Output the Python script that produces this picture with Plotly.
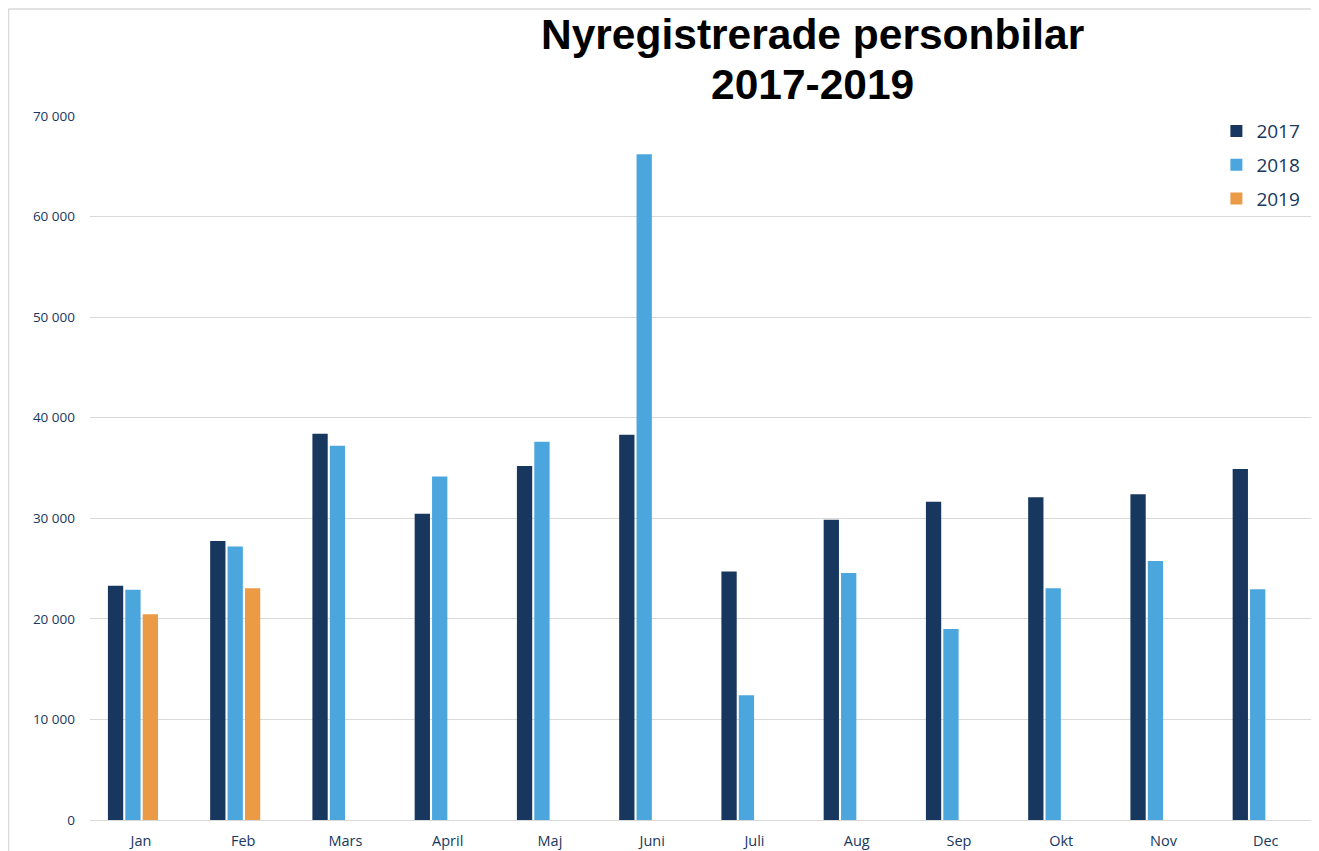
import plotly.graph_objects as go

months = ["Jan", "Feb", "Mars", "April", "Maj", "Juni", "Juli", "Aug", "Sep", "Okt", "Nov", "Dec"]
v2017 = [23300, 27750, 38400, 30450, 35200, 38300, 24700, 29850, 31650, 32100, 32400, 34900]
v2018 = [22900, 27200, 37200, 34150, 37600, 66200, 12400, 24550, 19000, 23050, 25750, 22950]
v2019 = [20450, 23050, None, None, None, None, None, None, None, None, None, None]
ytickvals = [0, 10000, 20000, 30000, 40000, 50000, 60000, 70000]
yticktext = ["0", "10 000", "20 000", "30 000", "40 000", "50 000", "60 000", "70 000"]
title_lines = ["Nyregistrerade personbilar", "2017-2019"]

navy = "#17375E"
fig = go.Figure()
fig.add_trace(go.Bar(name="2017", x=months, y=v2017, marker_color="#17375E", marker_line_width=0, legendgroup="a"))
fig.add_trace(go.Bar(name="2018", x=months, y=v2018, marker_color="#4BA6DD", marker_line_width=0, legendgroup="b"))
fig.add_trace(go.Bar(name="2019", x=months, y=v2019, marker_color="#EB9A45", marker_line_width=0, legendgroup="c"))

fig.update_layout(
    width=1311, height=843,
    barmode="group", bargap=0.49, bargroupgap=0.12,
    paper_bgcolor="white", plot_bgcolor="white",
    margin=dict(l=82, r=2, t=108, b=31),
    legend=dict(x=0.918, y=1.0055, xanchor="left", yanchor="top",
                font=dict(family="Open Sans, Calibri", size=19, color=navy),
                bgcolor="rgba(0,0,0,0)", itemwidth=30, tracegroupgap=6),
    showlegend=True,
    font=dict(family="Open Sans", color=navy),
)
fig.add_annotation(text="<b>%s</b>" % title_lines[0], xref="paper", yref="paper",
                   x=(812 - 90) / 1227, y=(820 - 34) / 704, xanchor="center", yanchor="middle",
                   showarrow=False, font=dict(family="Liberation Sans, Arial", size=42.5, color="black"))
fig.add_annotation(text="<b>%s</b>" % title_lines[1], xref="paper", yref="paper",
                   x=(812 - 90) / 1227, y=(820 - 84) / 704, xanchor="center", yanchor="middle",
                   showarrow=False, font=dict(family="Liberation Sans, Arial", size=42.5, color="black"))
fig.update_xaxes(showline=True, linecolor="#D9D9D9", linewidth=1, showgrid=False,
                 range=[-0.42, 11.58], ticklabelshift=8, ticklabelstandoff=8,
                 tickfont=dict(family="Open Sans", size=14.5, color=navy), ticks="")
fig.update_yaxes(range=[0, 70000], tickvals=ytickvals, ticktext=yticktext,
                 showgrid=True, gridcolor="#D9D9D9", gridwidth=1, zeroline=False,
                 tickfont=dict(family="Open Sans", size=13.5, color=navy), ticklabelstandoff=14)

fig.add_shape(type="line", xref="paper", yref="paper", x0=-0.0664, x1=-0.0664, y0=-0.1, y1=1.152,
              line=dict(color="#D9D9D9", width=1.5))
fig.add_shape(type="line", xref="paper", yref="paper", x0=-0.0664, x1=1.02, y0=1.152, y1=1.152,
              line=dict(color="#D9D9D9", width=1.5))

fig.write_html("out.html")
